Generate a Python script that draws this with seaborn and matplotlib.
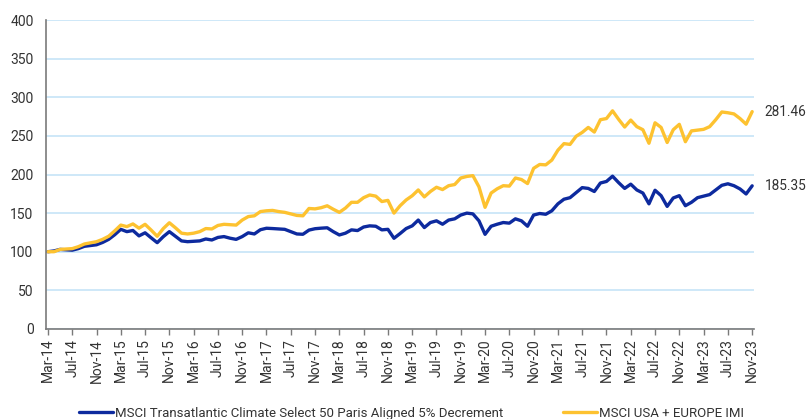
import pandas as pd
import seaborn as sns
import matplotlib.pyplot as plt

# monthly index levels, Mar-14 .. Nov-23
months = pd.date_range("2014-03-01", "2023-11-01", freq="MS")

climate_select = [
    100, 101, 103, 102.5, 102, 104, 107, 108, 109, 112,
    116, 122, 129, 126, 127.5, 120.5, 124.5, 118, 111.7, 119.5,
    126, 120, 114, 113, 113.5, 114, 116.5, 115.2, 118.5, 119.6,
    117.5, 116, 119.6, 124.5, 123, 128.5, 130.4, 130, 129.5, 129,
    126, 123, 122.6, 128, 129.8, 130.5, 131, 126, 121.7, 124,
    128.3, 127.4, 132, 133.5, 133, 128.3, 129, 117.4, 123.5, 130,
    133.5, 141, 131.3, 137.8, 140, 135.6, 141, 142.6, 147.5, 150,
    149, 140, 122.5, 133, 135.6, 137.8, 137, 142.6, 140, 133,
    147.5, 149.5, 148.5, 153, 162, 168, 170, 176.5, 183, 182,
    178, 189, 191, 197.8, 189.5, 182, 187.5, 180, 176, 162,
    179.6, 172.6, 158.7, 169.6, 172.6, 159.6, 164, 170, 172, 174,
    180, 186, 188, 185.5, 181.3, 174.8, 185.35,
]

usa_europe_imi = [
    100, 100, 103, 103.5, 104, 106.5, 110, 111.5, 113, 116,
    120, 127, 134.5, 132.5, 136, 130.5, 135.5, 128, 120, 130,
    137.5, 131, 124, 123, 124, 126, 130, 129.5, 134, 135.5,
    135, 134.5, 141, 145.5, 146.5, 152, 153, 153.5, 152, 151,
    149, 147, 146.5, 156, 155.5, 157, 159.5, 155, 151, 156.5,
    164, 164, 170, 173.5, 172, 165, 166.5, 150, 159.5, 167,
    172.5, 180, 171, 178, 183.5, 180.5, 185.5, 187, 195.5, 197.5,
    198.5, 184, 157.5, 176, 181.5, 185.5, 185, 195.5, 193.5, 188.3,
    208, 213, 212.5, 218.7, 231.5, 240, 239, 249.5, 254.5, 261,
    255, 271, 272.5, 282.5, 271.5, 261.5, 270.5, 262, 258, 240.5,
    267, 261, 241.5, 258, 265, 242.5, 256.5, 257.5, 258.5, 262,
    271, 281, 280, 278.5, 272.5, 265.2, 281.46,
]

series_names = [
    "MSCI Transatlantic Climate Select 50 Paris Aligned 5% Decrement",
    "MSCI USA + EUROPE IMI",
]
colors = ["#0d2a9e", "#fdc230"]

df = pd.concat(
    [
        pd.DataFrame({"month": range(len(months)), "value": climate_select, "index": series_names[0]}),
        pd.DataFrame({"month": range(len(months)), "value": usa_europe_imi, "index": series_names[1]}),
    ]
)

sns.set_theme(style="white")
plt.rcParams["font.family"] = ["Roboto", "DejaVu Sans"]
text_color = "#333333"

fig = plt.figure(figsize=(8.09, 4.19), dpi=100)
ax = fig.add_axes([0.057, 0.215, 0.875, 0.737])

sns.lineplot(
    data=df, x="month", y="value", hue="index", hue_order=series_names,
    palette=colors, linewidth=2.4, ax=ax, legend=True,
)

ax.set_ylim(0, 400)
ax.set_yticks(range(0, 401, 50))
ax.set_xlim(-0.3, 116.3)
tick_pos = list(range(0, len(months), 4))
ax.set_xticks(tick_pos)
ax.set_xticklabels([months[i].strftime("%b-%y") for i in tick_pos], rotation=90)
ax.set_xlabel("")
ax.set_ylabel("")

ax.grid(axis="y", color="#c6e4f7", linewidth=1.2)
ax.set_axisbelow(True)
for side in ["top", "right"]:
    ax.spines[side].set_visible(False)
for side in ["left", "bottom"]:
    ax.spines[side].set_color("#7a7a7a")
    ax.spines[side].set_linewidth(1.2)

ax.tick_params(axis="y", length=0, pad=9, labelsize=10, labelcolor=text_color)
ax.tick_params(axis="x", bottom=True, length=4, width=1, color="#7a7a7a",
               pad=3, labelsize=10, labelcolor=text_color)

# end-of-series labels
for vals in [usa_europe_imi, climate_select]:
    ax.annotate(f"{vals[-1]:.2f}", xy=(len(vals) - 1, vals[-1]), xytext=(9, 0),
                textcoords="offset points", va="center", ha="left",
                fontsize=9.8, color=text_color, annotation_clip=False)

handles, labels = ax.get_legend_handles_labels()
ax.get_legend().remove()
fig.legend(handles, labels, loc="lower left", bbox_to_anchor=(0.083, -0.03),
           ncol=2, frameon=False, fontsize=9.5, handlelength=2.6,
           handletextpad=0.15, columnspacing=4.5, labelcolor=text_color)

fig.savefig("out.png", dpi=100)
